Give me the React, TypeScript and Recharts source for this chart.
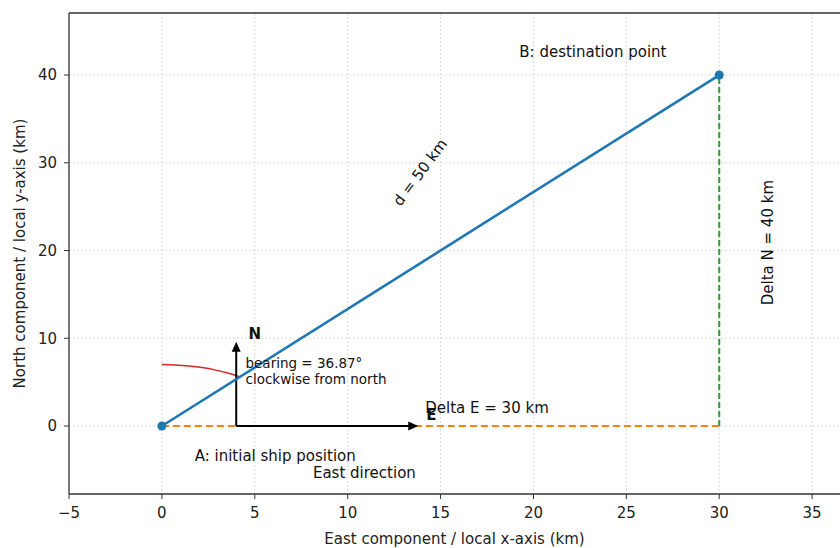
import React from "react"
import { ComposedChart, Line, XAxis, YAxis, CartesianGrid, ReferenceLine, ReferenceDot } from "recharts"

const xTicks = [-5, 0, 5, 10, 15, 20, 25, 30, 35]
const yTicks = [0, 10, 20, 30, 40]
const xDomain = [-5, 36.5]
const yDomain = [-7.75, 47.07]

// ship track: start A and destination B
const trackX = [0, 30]
const trackY = [0, 40]

// east and north components
const deltaEX = [0, 30]
const deltaEY = [0, 0]
const deltaNX = [30, 30]
const deltaNY = [0, 40]

// bearing arc (radius in km, angles in degrees clockwise from north)
const arcRadius = 7
const arcAngles = [0, 6, 12, 18, 24, 30, 36.87]

// compass arrows drawn from the local origin
const arrowOrigin = { x: 4, y: 0 }
const northTip = { x: 4, y: 9.6 }
const eastTip = { x: 13.8, y: 0 }

const annotations = [
  { x: 23.2, y: 42.6, text: "B: destination point", rotate: 0, size: 15, bold: false },
  { x: 13.9, y: 28.9, text: "d = 50 km", rotate: -53.13, size: 15, bold: false },
  { x: 32.6, y: 20.9, text: "Delta N = 40 km", rotate: -90, size: 15, bold: false },
  { x: 17.5, y: 2.0, text: "Delta E = 30 km", rotate: 0, size: 15, bold: false },
  { x: 6.1, y: -3.4, text: "A: initial ship position", rotate: 0, size: 15, bold: false },
  { x: 10.9, y: -5.4, text: "East direction", rotate: 0, size: 15, bold: false },
  { x: 5.0, y: 10.5, text: "N", rotate: 0, size: 15, bold: true },
  { x: 14.5, y: 1.2, text: "E", rotate: 0, size: 15, bold: true },
]

const bearingLines = ["bearing = 36.87°", "clockwise from north"]
const bearingAt = { x: 4.5, y: 6.6 }

const toPoints = (xs: number[], ys: number[]) => xs.map((x, i) => ({ x, y: ys[i] }))

const track = toPoints(trackX, trackY)
const deltaE = toPoints(deltaEX, deltaEY)
const deltaN = toPoints(deltaNX, deltaNY)
const arc = arcAngles.map((a) => ({
  x: arcRadius * Math.sin((a * Math.PI) / 180),
  y: arcRadius * Math.cos((a * Math.PI) / 180),
}))

const FONT = "DejaVu Sans, sans-serif"

// line with a filled arrow head at the (x2, y2) end
function Arrow(props: any) {
  const { x1, y1, x2, y2 } = props
  const dx = x2 - x1
  const dy = y2 - y1
  const len = Math.sqrt(dx * dx + dy * dy)
  const ux = dx / len
  const uy = dy / len
  const hl = 10
  const hw = 4.5
  const bx = x2 - ux * hl
  const by = y2 - uy * hl
  const pts = `${x2},${y2} ${bx - uy * hw},${by + ux * hw} ${bx + uy * hw},${by - ux * hw}`
  return (
    <g>
      <line x1={x1} y1={y1} x2={bx + ux * 2} y2={by + uy * 2} stroke="#000" strokeWidth={2} />
      <polygon points={pts} fill="#000" />
    </g>
  )
}

const minus = (v: number) => String(v).replace("-", "\u2212")

export default function App() {
  return (
    <div style={{ position: "fixed", left: 0, top: 0, background: "#fff" }}>
      <ComposedChart width={840} height={548} margin={{ top: 13, right: 0, bottom: 0, left: 0 }}>
        <CartesianGrid stroke="#dcdcdc" strokeDasharray="2 2" horizontalValues={yTicks} verticalValues={xTicks} />
        <XAxis
          type="number"
          dataKey="x"
          domain={xDomain}
          ticks={xTicks}
          allowDataOverflow
          height={54}
          tickFormatter={minus}
          tick={{ fill: "#222", fontSize: 15, fontFamily: FONT }}
          tickSize={5}
          tickMargin={8}
          stroke="#333"
          tickLine={{ stroke: "#333" }}
          axisLine={{ stroke: "#333", strokeWidth: 1.3 }}
          label={{ value: "East component / local x-axis (km)", position: "insideBottom", offset: 4, fill: "#222", fontSize: 15, fontFamily: FONT }}
        />
        <YAxis
          type="number"
          dataKey="y"
          domain={yDomain}
          ticks={yTicks}
          allowDataOverflow
          width={69}
          tick={{ fill: "#222", fontSize: 15, fontFamily: FONT }}
          tickSize={5}
          tickMargin={7}
          stroke="#333"
          tickLine={{ stroke: "#333" }}
          axisLine={{ stroke: "#333", strokeWidth: 1.3 }}
          label={{ value: "North component / local y-axis (km)", angle: -90, position: "insideLeft", offset: 20, fill: "#222", fontSize: 15, fontFamily: FONT, style: { textAnchor: "middle" } }}
        />
        <ReferenceLine y={yDomain[1]} stroke="#333" strokeWidth={1.5} ifOverflow="visible" />

        <Line data={deltaE} dataKey="y" type="linear" stroke="#ff7f0e" strokeWidth={2} strokeDasharray="7 4" dot={false} isAnimationActive={false} />
        <Line data={deltaN} dataKey="y" type="linear" stroke="#2ca02c" strokeWidth={2} strokeDasharray="6 3" dot={false} isAnimationActive={false} />
        <Line data={arc} dataKey="y" type="monotone" stroke="#d62728" strokeWidth={1.5} dot={false} isAnimationActive={false} />

        <ReferenceLine segment={[arrowOrigin, northTip]} shape={Arrow} ifOverflow="visible" />
        <ReferenceLine segment={[arrowOrigin, eastTip]} shape={Arrow} ifOverflow="visible" />

        <Line data={track} dataKey="y" type="linear" stroke="#1f77b4" strokeWidth={2.6} dot={{ r: 4.5, fill: "#1f77b4", stroke: "#1f77b4", strokeWidth: 0 }} isAnimationActive={false} />

        {annotations.map((a, i) => (
          <ReferenceDot
            key={i}
            x={a.x}
            y={a.y}
            ifOverflow="visible"
            shape={(p: any) => (
              <text
                x={p.cx}
                y={p.cy}
                transform={`rotate(${a.rotate} ${p.cx} ${p.cy})`}
                textAnchor="middle"
                dominantBaseline="central"
                fontFamily={FONT}
                fontSize={a.size}
                fontWeight={a.bold ? "bold" : "normal"}
                fill="#111"
              >
                {a.text}
              </text>
            )}
          />
        ))}
        <ReferenceDot
          x={bearingAt.x}
          y={bearingAt.y}
          ifOverflow="visible"
          shape={(p: any) => (
            <text x={p.cx} y={p.cy} fontFamily={FONT} fontSize={13.5} fill="#111">
              {bearingLines.map((l, i) => (
                <tspan key={i} x={p.cx} dy={i === 0 ? 0 : 16}>
                  {l}
                </tspan>
              ))}
            </text>
          )}
        />
      </ComposedChart>
    </div>
  )
}
